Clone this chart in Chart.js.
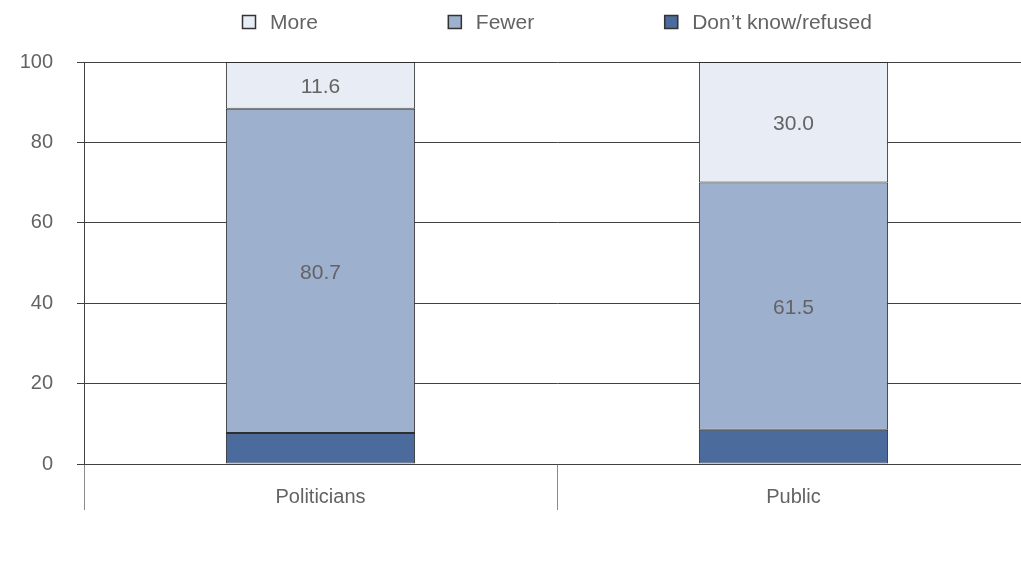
<!DOCTYPE html>
<html>
<head>
<meta charset="utf-8">
<script src="https://cdn.jsdelivr.net/npm/chart.js@4"></script>
<style>
body { margin: 0; overflow: hidden; background: #fff; }
</style>
</head>
<body>
<canvas id="chart" width="1030" height="564"></canvas>
<script>
const categories = ["Politicians", "Public"];
const dontKnow = [7.7, 8.5];
const fewer = [80.7, 61.5];
const more = [11.6, 30.0];
const yMin = 0, yMax = 100, yStep = 20;

const textGray = "#636363";
const fontFamily = '"Liberation Sans", Arial, sans-serif';

// legend drawn by hand so the item spacing can match the original
const topLegend = {
    id: "topLegend",
    afterDraw(chart) {
        const ctx = chart.ctx;
        const items = chart.data.datasets.slice().reverse();
        const box = 14, gap = 14, spacing = 130;
        ctx.save();
        ctx.font = "21px " + fontFamily;
        const widths = items.map(d => box + gap + ctx.measureText(d.label).width);
        const total = widths.reduce((a, b) => a + b, 0) + spacing * (items.length - 1);
        let x = Math.round((chart.chartArea.left + chart.chartArea.right) / 2 - total / 2);
        const y = 22;
        items.forEach((d, i) => {
            ctx.fillStyle = d.backgroundColor;
            ctx.fillRect(x, y - box / 2, box, box);
            ctx.strokeStyle = "#333";
            ctx.lineWidth = 1.5;
            ctx.strokeRect(x + 0.5, y - box / 2 + 0.5, box - 1, box - 1);
            ctx.fillStyle = textGray;
            ctx.textAlign = "left";
            ctx.textBaseline = "middle";
            ctx.fillText(d.label, x + box + gap, y + 1);
            x += widths[i] + spacing;
        });
        ctx.restore();
    }
};

const valueLabels = {
    id: "valueLabels",
    afterDatasetsDraw(chart) {
        const ctx = chart.ctx;
        ctx.save();
        ctx.font = "21px " + fontFamily;
        ctx.fillStyle = textGray;
        ctx.textAlign = "center";
        ctx.textBaseline = "middle";
        chart.data.datasets.forEach((ds, di) => {
            if (!ds.showValues) return;
            chart.getDatasetMeta(di).data.forEach((bar, i) => {
                const p = bar.getProps(["x", "y", "base"], true);
                ctx.fillText(ds.data[i].toFixed(1), p.x, (p.y + p.base) / 2 + 2);
            });
        });
        ctx.restore();
    }
};

Chart.defaults.font.family = fontFamily;
Chart.defaults.font.size = 20;
Chart.defaults.color = textGray;

new Chart(document.getElementById("chart"), {
    type: "bar",
    data: {
        labels: categories,
        datasets: [
            { label: "Don’t know/refused", data: dontKnow, backgroundColor: "#4a6b9b", showValues: false },
            { label: "Fewer", data: fewer, backgroundColor: "#9db0ce", showValues: true },
            { label: "More", data: more, backgroundColor: "#e8edf5", showValues: true }
        ]
    },
    options: {
        responsive: false,
        animation: false,
        layout: { padding: { top: 62, bottom: 52, left: 0, right: 0 } },
        datasets: {
            bar: {
                borderColor: "#2e2e2e",
                borderWidth: 1,
                borderSkipped: false,
                categoryPercentage: 1,
                barPercentage: 0.4
            }
        },
        plugins: {
            legend: { display: false },
            tooltip: { enabled: false }
        },
        scales: {
            x: {
                stacked: true,
                grid: { offset: true, drawOnChartArea: false, drawTicks: true, tickLength: 46, color: "#8a8a8a" },
                border: { display: false },
                ticks: { padding: -25, color: textGray, autoSkip: false, maxRotation: 0 },
                afterFit(scale) { scale.height = 48; }
            },
            y: {
                stacked: true,
                min: yMin,
                max: yMax,
                ticks: { stepSize: yStep, padding: 24, color: textGray },
                grid: { color: "#404040", tickLength: 7 },
                border: { color: "#404040" },
                afterFit(scale) { scale.width = 84; }
            }
        }
    },
    plugins: [topLegend, valueLabels]
});
</script>
</body>
</html>
